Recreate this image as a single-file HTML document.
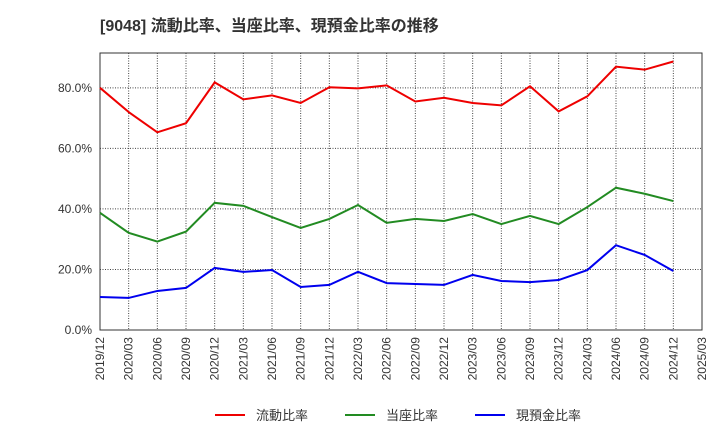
<!DOCTYPE html>
<html><head><meta charset="utf-8"><style>
body{margin:0;background:#fff;}
svg{font-family:"Liberation Sans","Noto Sans CJK JP",sans-serif;}
</style></head><body>
<svg id="c" width="720" height="440">
<text x="100" y="31" font-size="16" font-weight="bold" fill="#333">[9048]  流動比率、当座比率、現預金比率の推移</text>
<g id="grid"></g><g id="axes"></g><g id="series"></g><g id="legend"></g>
</svg>
<script>
const xLabels=["2019/12","2020/03","2020/06","2020/09","2020/12","2021/03","2021/06","2021/09","2021/12","2022/03","2022/06","2022/09","2022/12","2023/03","2023/06","2023/09","2023/12","2024/03","2024/06","2024/09","2024/12","2025/03"];
const yTicks=[0,20,40,60,80];
const ryuudou=[80,72,65.3,68.3,81.8,76.2,77.5,75,80.2,79.8,80.8,75.5,76.7,75,74.2,80.5,72.2,77.2,87,86,88.7];
const touza=[38.7,32.1,29.2,32.5,42,41,37.3,33.7,36.7,41.3,35.4,36.7,36,38.3,35,37.7,35,40.6,47,45,42.6];
const genyokin=[10.9,10.6,12.9,13.9,20.5,19.2,19.8,14.2,14.9,19.2,15.5,15.2,14.9,18.2,16.2,15.8,16.5,19.8,28,24.8,19.5];
const seriesNames=["流動比率","当座比率","現預金比率"];
const L=100,R=702,T=53,B=330,YMAX=91.5;
const ns="http://www.w3.org/2000/svg";
const xs=i=>L+i*(R-L)/(xLabels.length-1);
const ys=v=>B-v/YMAX*(B-T);
function mk(tag,attrs,parent){const e=document.createElementNS(ns,tag);for(const k in attrs)e.setAttribute(k,attrs[k]);document.getElementById(parent).appendChild(e);return e;}
xLabels.forEach((l,i)=>{
 const g=mk("line",{x1:xs(i),x2:xs(i),y1:T,y2:B,stroke:"#444","stroke-dasharray":"1,1.5","stroke-width":1},"grid");
 
 
 const t=mk("text",{x:0,y:0,"font-size":12,fill:"#333","text-anchor":"end",transform:`translate(${xs(i)+4},337) rotate(-90)`},"axes");
 t.textContent=l;
 
 
});
yTicks.forEach(v=>{
 if(v>0){const g=mk("line",{x1:L,x2:R,y1:ys(v),y2:ys(v),stroke:"#444","stroke-dasharray":"1,1.5"},"grid");
 
 }
 const t=mk("text",{x:92,y:ys(v)+4,"font-size":12,fill:"#333","text-anchor":"end"},"axes");
 t.textContent=v.toFixed(1)+"%";
 
 
});
const box=mk("rect",{x:L,y:T,width:R-L,height:B-T,fill:"none",stroke:"#333","stroke-width":1},"axes");


const colors=["#e00","#228b22","#00e"];
[ryuudou,touza,genyokin].forEach((d,s)=>{
 const p=mk("polyline",{points:d.map((v,i)=>xs(i)+","+ys(v)).join(" "),fill:"none",stroke:colors[s],"stroke-width":2},"series");
 
 
 const lx=215+s*130;
 const ll=mk("line",{x1:lx,x2:lx+30,y1:415,y2:415,stroke:colors[s],"stroke-width":2},"legend");
 
 
 const lt=mk("text",{x:lx+41,y:420,"font-size":13,fill:"#333"},"legend");
 lt.textContent=seriesNames[s];
 
 
});
</script>
</body></html>
